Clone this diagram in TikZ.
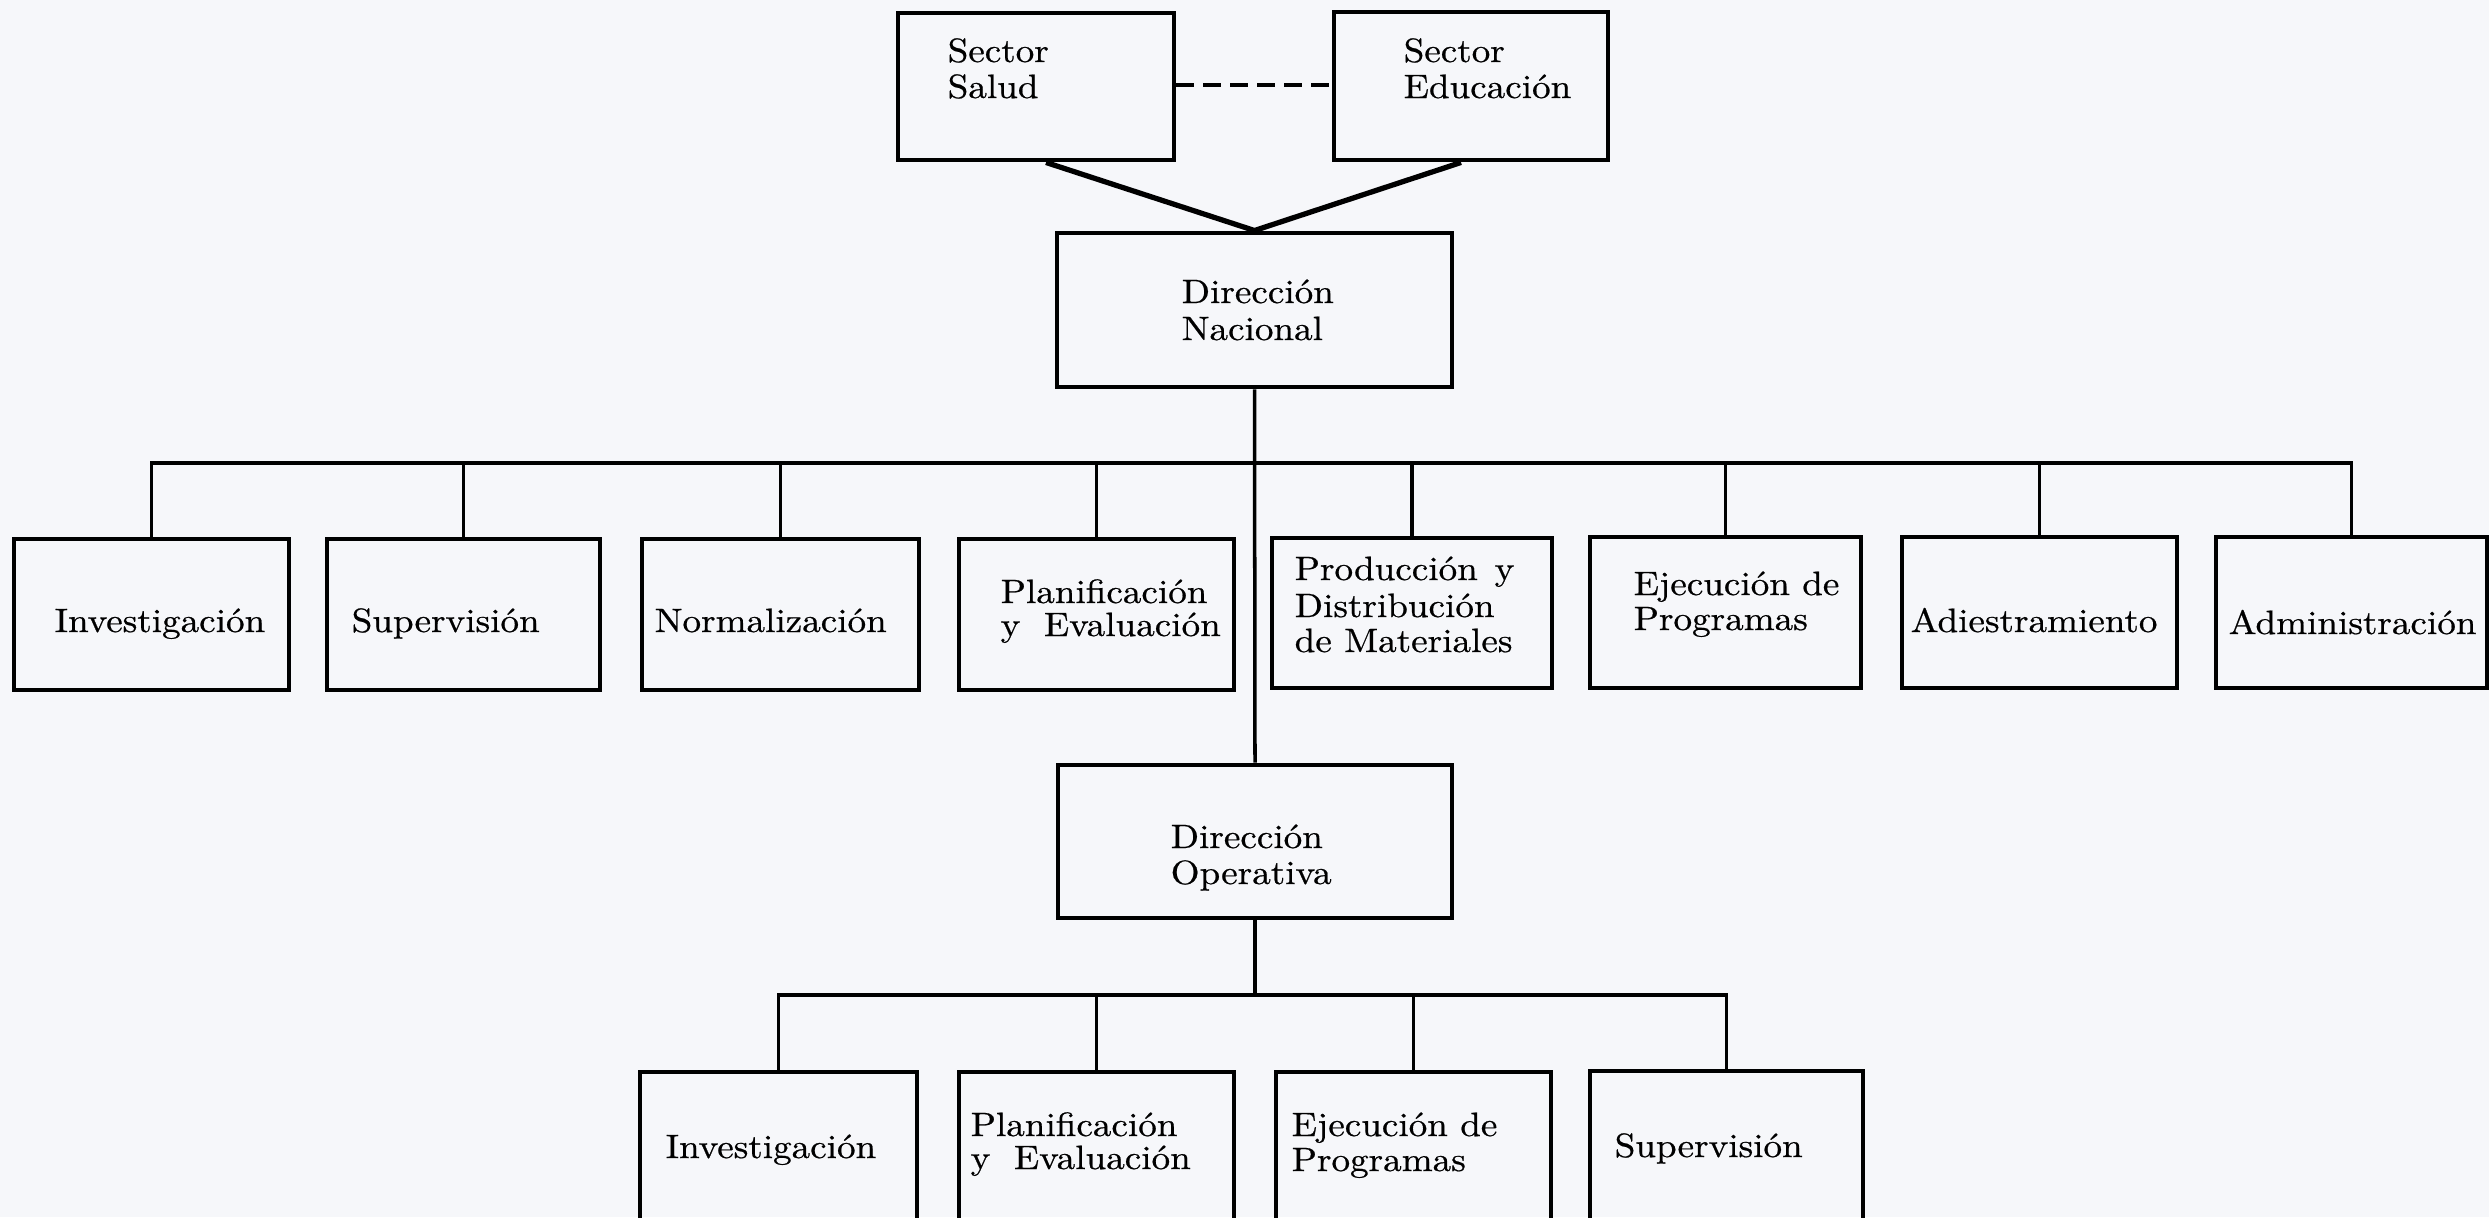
\documentclass[tikz,border=0pt]{standalone}
\usepackage{fontspec}
\setmainfont{lmroman10-regular}[Extension=.otf, FakeStretch=1.1, FakeBold=0.6]
\usetikzlibrary{fit}
\definecolor{paper}{RGB}{246,247,250}
\tikzset{
  box/.style={draw, line width=1.4pt, inner sep=0pt, rectangle},
  link/.style={line width=1pt, line join=miter},
  heavy/.style={line width=1.5pt},
  dashlink/.style={line width=1.1pt, dash pattern=on 1.8mm off 0.9mm},
  txt/.style={anchor=base west, inner sep=0pt, font=\fontsize{9.6pt}{11pt}\selectfont},
}
\begin{document}
\begin{tikzpicture}[x=0.1mm, y=-0.1mm]
% paper and page frame
\fill[paper] (0,0) rectangle (2489,1217);
\useasboundingbox (0,0) rectangle (2489,1217);
\clip (0,0) rectangle (2489,1217);

% sectors and national direction
\node[box, fit={(898,13) (1174,160)}]  (salud) {};
\node[box, fit={(1334,12) (1608,160)}] (educ)  {};
\node[box, fit={(1057,233) (1452,387)}] (nac)  {};

% national departments
\node[box, fit={(14,539) (289,690)}]    (m1) {};
\node[box, fit={(327,539) (600,690)}]   (m2) {};
\node[box, fit={(642,539) (919,690)}]   (m3) {};
\node[box, fit={(959,539) (1234,690)}]  (m4) {};
\node[box, fit={(1272,538) (1552,688)}] (m5) {};
\node[box, fit={(1590,537) (1861,688)}] (m6) {};
\node[box, fit={(1902,537) (2177,688)}] (m7) {};
\node[box, fit={(2216,537) (2487,688)}] (m8) {};

% operative direction and its departments
\node[box, fit={(1058,765) (1452,918)}]  (op) {};
\node[box, fit={(640,1072) (917,1260)}]  (b1) {};
\node[box, fit={(959,1072) (1234,1260)}] (b2) {};
\node[box, fit={(1276,1072) (1551,1260)}] (b3) {};
\node[box, fit={(1590,1071) (1863,1260)}] (b4) {};

% levels of the horizontal lines
\coordinate (dashy) at (0,85);
\coordinate (busy)  at (0,463);
\coordinate (lowy)  at (0,995);

% connectors
\draw[dashlink] (salud.east |- dashy) -- (educ.west |- dashy);
\draw[heavy] ([xshift=1mm]salud.south) -- (nac.north) -- ([xshift=-1mm]educ.south);
\draw[link] (nac.south) -- (op.north);
\draw[link] (m1.north) -- (m1.north |- busy) -- (m8.north |- busy) -- (m8.north);
\foreach \b in {m2,m3,m4,m5,m6,m7}
  \draw[link] (\b.north) -- (\b.north |- busy);
\draw[link] (op.south) -- (op.south |- lowy);
\draw[link] (b1.north) -- (b1.north |- lowy) -- (b4.north |- lowy) -- (b4.north);
\foreach \b in {b2,b3}
  \draw[link] (\b.north) -- (\b.north |- lowy);

% labels
\node[txt] (t-salud-a) at (947,62) {Sector};
\node[txt] (t-salud-b) at (947,98) {Salud};
\node[txt] (t-educ-a) at (1403,62) {Sector};
\node[txt] (t-educ-b) at (1403,98) {Educación};
\node[txt] (t-nac-a) at (1181,303) {Dirección};
\node[txt] (t-nac-b) at (1181,340) {Nacional};

\node[txt] (t-m1) at (54,632) {Investigación};
\node[txt] (t-m2) at (351,632) {Supervisión};
\node[txt] (t-m3) at (654,632) {Normalización};
\node[txt] (t-m4-a) at (1000,603) {Planificación};
\node[txt] (t-m4-b) at (1000,636) {y\hspace{0.7em}Evaluación};
\node[txt] (t-m5-a) at (1294,580) {Producción\hspace{0.5em}y};
\node[txt] (t-m5-b) at (1294,617) {Distribución};
\node[txt] (t-m5-c) at (1294,652) {de Materiales};
\node[txt] (t-m6-a) at (1633,595) {Ejecución de};
\node[txt] (t-m6-b) at (1633,630) {Programas};
\node[txt] (t-m7) at (1910,632) {Adiestramiento};
\node[txt] (t-m8) at (2228,634) {Administración};

\node[txt] (t-op-a) at (1170,848) {Dirección};
\node[txt] (t-op-b) at (1170,884) {Operativa};

\node[txt] (t-b1) at (665,1158) {Investigación};
\node[txt] (t-b2-a) at (970,1136) {Planificación};
\node[txt] (t-b2-b) at (970,1169) {y\hspace{0.7em}Evaluación};
\node[txt] (t-b3-a) at (1291,1136) {Ejecución de};
\node[txt] (t-b3-b) at (1291,1171) {Programas};
\node[txt] (t-b4) at (1614,1157) {Supervisión};
\end{tikzpicture}
\end{document}
